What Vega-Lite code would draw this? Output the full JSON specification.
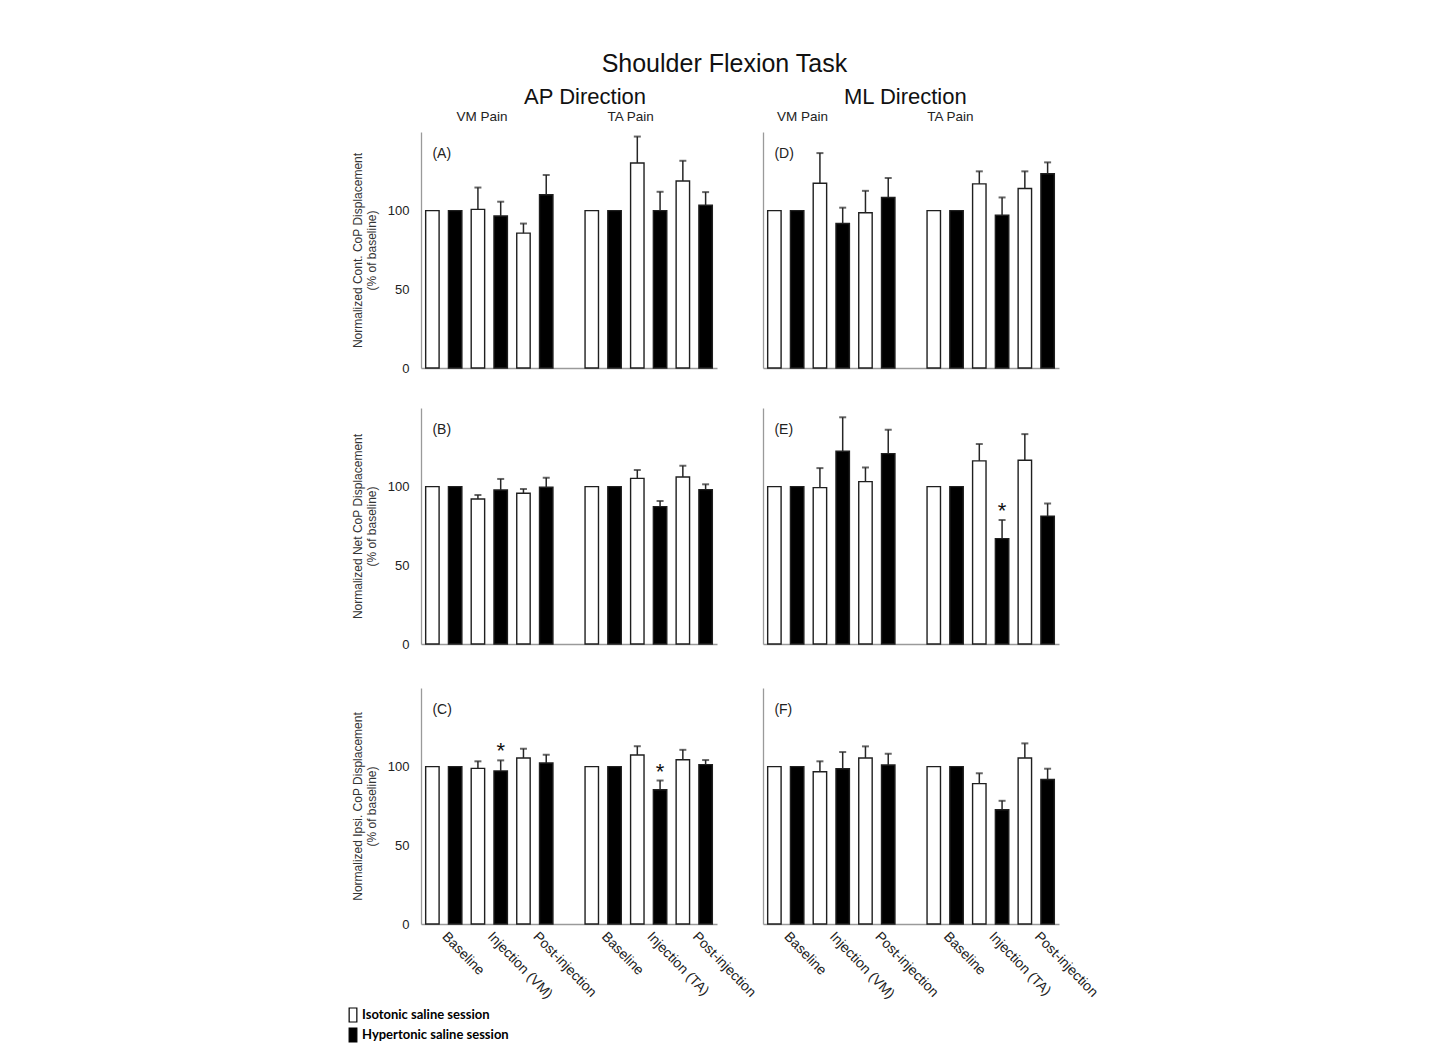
{
"$schema":"https://vega.github.io/schema/vega-lite/v6.json",
"padding":{"left":345,"top":51,"right":5,"bottom":5},
"title":{"text":"Shoulder Flexion Task","fontSize":25,"fontWeight":"normal","font":"Liberation Sans","color":"#111","anchor":"middle","offset":9,"dx":2},
"datasets":{"d":[
{"panel":"A","pain":"VM","phase":"Baseline","session":"Isotonic saline session","value":100},
{"panel":"A","pain":"VM","phase":"Baseline","session":"Hypertonic saline session","value":100},
{"panel":"A","pain":"VM","phase":"Injection (VM)","session":"Isotonic saline session","value":100.8,"upper":114.7},
{"panel":"A","pain":"VM","phase":"Injection (VM)","session":"Hypertonic saline session","value":96.6,"upper":105.7},
{"panel":"A","pain":"VM","phase":"Post-injection","session":"Isotonic saline session","value":85.7,"upper":91.8},
{"panel":"A","pain":"VM","phase":"Post-injection","session":"Hypertonic saline session","value":110.1,"upper":122.7},
{"panel":"A","pain":"TA","phase":"Baseline","session":"Isotonic saline session","value":100},
{"panel":"A","pain":"TA","phase":"Baseline","session":"Hypertonic saline session","value":100},
{"panel":"A","pain":"TA","phase":"Injection (TA)","session":"Isotonic saline session","value":130.3,"upper":147.1},
{"panel":"A","pain":"TA","phase":"Injection (TA)","session":"Hypertonic saline session","value":100,"upper":112},
{"panel":"A","pain":"TA","phase":"Post-injection","session":"Isotonic saline session","value":118.9,"upper":131.7},
{"panel":"A","pain":"TA","phase":"Post-injection","session":"Hypertonic saline session","value":103.4,"upper":111.8},
{"panel":"B","pain":"VM","phase":"Baseline","session":"Isotonic saline session","value":100},
{"panel":"B","pain":"VM","phase":"Baseline","session":"Hypertonic saline session","value":100},
{"panel":"B","pain":"VM","phase":"Injection (VM)","session":"Isotonic saline session","value":92.2,"upper":94.7},
{"panel":"B","pain":"VM","phase":"Injection (VM)","session":"Hypertonic saline session","value":97.9,"upper":104.9},
{"panel":"B","pain":"VM","phase":"Post-injection","session":"Isotonic saline session","value":95.8,"upper":98.5},
{"panel":"B","pain":"VM","phase":"Post-injection","session":"Hypertonic saline session","value":99.6,"upper":105.7},
{"panel":"B","pain":"TA","phase":"Baseline","session":"Isotonic saline session","value":100},
{"panel":"B","pain":"TA","phase":"Baseline","session":"Hypertonic saline session","value":100},
{"panel":"B","pain":"TA","phase":"Injection (TA)","session":"Isotonic saline session","value":105.3,"upper":110.6},
{"panel":"B","pain":"TA","phase":"Injection (TA)","session":"Hypertonic saline session","value":87.3,"upper":90.9},
{"panel":"B","pain":"TA","phase":"Post-injection","session":"Isotonic saline session","value":106.1,"upper":113.3},
{"panel":"B","pain":"TA","phase":"Post-injection","session":"Hypertonic saline session","value":98.1,"upper":101.5},
{"panel":"C","pain":"VM","phase":"Baseline","session":"Isotonic saline session","value":100},
{"panel":"C","pain":"VM","phase":"Baseline","session":"Hypertonic saline session","value":100},
{"panel":"C","pain":"VM","phase":"Injection (VM)","session":"Isotonic saline session","value":98.9,"upper":103.4},
{"panel":"C","pain":"VM","phase":"Injection (VM)","session":"Hypertonic saline session","value":97.3,"upper":104.0,"sig":"*"},
{"panel":"C","pain":"VM","phase":"Post-injection","session":"Isotonic saline session","value":105.5,"upper":111.4},
{"panel":"C","pain":"VM","phase":"Post-injection","session":"Hypertonic saline session","value":102.3,"upper":107.6},
{"panel":"C","pain":"TA","phase":"Baseline","session":"Isotonic saline session","value":100},
{"panel":"C","pain":"TA","phase":"Baseline","session":"Hypertonic saline session","value":100},
{"panel":"C","pain":"TA","phase":"Injection (TA)","session":"Isotonic saline session","value":107.4,"upper":113.0},
{"panel":"C","pain":"TA","phase":"Injection (TA)","session":"Hypertonic saline session","value":85.3,"upper":91.2,"sig":"*"},
{"panel":"C","pain":"TA","phase":"Post-injection","session":"Isotonic saline session","value":104.4,"upper":110.7},
{"panel":"C","pain":"TA","phase":"Post-injection","session":"Hypertonic saline session","value":101.3,"upper":104.2},
{"panel":"D","pain":"VM","phase":"Baseline","session":"Isotonic saline session","value":100},
{"panel":"D","pain":"VM","phase":"Baseline","session":"Hypertonic saline session","value":100},
{"panel":"D","pain":"VM","phase":"Injection (VM)","session":"Isotonic saline session","value":117.4,"upper":136.6},
{"panel":"D","pain":"VM","phase":"Injection (VM)","session":"Hypertonic saline session","value":91.8,"upper":101.9},
{"panel":"D","pain":"VM","phase":"Post-injection","session":"Isotonic saline session","value":98.7,"upper":112.6},
{"panel":"D","pain":"VM","phase":"Post-injection","session":"Hypertonic saline session","value":108.4,"upper":120.8},
{"panel":"D","pain":"TA","phase":"Baseline","session":"Isotonic saline session","value":100},
{"panel":"D","pain":"TA","phase":"Baseline","session":"Hypertonic saline session","value":100},
{"panel":"D","pain":"TA","phase":"Injection (TA)","session":"Isotonic saline session","value":117.0,"upper":125.0},
{"panel":"D","pain":"TA","phase":"Injection (TA)","session":"Hypertonic saline session","value":97.1,"upper":108.4},
{"panel":"D","pain":"TA","phase":"Post-injection","session":"Isotonic saline session","value":114.1,"upper":125.0},
{"panel":"D","pain":"TA","phase":"Post-injection","session":"Hypertonic saline session","value":123.5,"upper":130.7},
{"panel":"E","pain":"VM","phase":"Baseline","session":"Isotonic saline session","value":100},
{"panel":"E","pain":"VM","phase":"Baseline","session":"Hypertonic saline session","value":100},
{"panel":"E","pain":"VM","phase":"Injection (VM)","session":"Isotonic saline session","value":99.4,"upper":111.8},
{"panel":"E","pain":"VM","phase":"Injection (VM)","session":"Hypertonic saline session","value":122.5,"upper":144.1},
{"panel":"E","pain":"VM","phase":"Post-injection","session":"Isotonic saline session","value":103.2,"upper":112.2},
{"panel":"E","pain":"VM","phase":"Post-injection","session":"Hypertonic saline session","value":121.0,"upper":136.1},
{"panel":"E","pain":"TA","phase":"Baseline","session":"Isotonic saline session","value":100},
{"panel":"E","pain":"TA","phase":"Baseline","session":"Hypertonic saline session","value":100},
{"panel":"E","pain":"TA","phase":"Injection (TA)","session":"Isotonic saline session","value":116.4,"upper":127.1},
{"panel":"E","pain":"TA","phase":"Injection (TA)","session":"Hypertonic saline session","value":67.0,"upper":78.8,"sig":"*"},
{"panel":"E","pain":"TA","phase":"Post-injection","session":"Isotonic saline session","value":116.8,"upper":133.4},
{"panel":"E","pain":"TA","phase":"Post-injection","session":"Hypertonic saline session","value":81.3,"upper":89.3},
{"panel":"F","pain":"VM","phase":"Baseline","session":"Isotonic saline session","value":100},
{"panel":"F","pain":"VM","phase":"Baseline","session":"Hypertonic saline session","value":100},
{"panel":"F","pain":"VM","phase":"Injection (VM)","session":"Isotonic saline session","value":96.8,"upper":103.4},
{"panel":"F","pain":"VM","phase":"Injection (VM)","session":"Hypertonic saline session","value":98.7,"upper":109.3},
{"panel":"F","pain":"VM","phase":"Post-injection","session":"Isotonic saline session","value":105.5,"upper":112.9},
{"panel":"F","pain":"VM","phase":"Post-injection","session":"Hypertonic saline session","value":101.1,"upper":108.2},
{"panel":"F","pain":"TA","phase":"Baseline","session":"Isotonic saline session","value":100},
{"panel":"F","pain":"TA","phase":"Baseline","session":"Hypertonic saline session","value":100},
{"panel":"F","pain":"TA","phase":"Injection (TA)","session":"Isotonic saline session","value":89.2,"upper":95.8},
{"panel":"F","pain":"TA","phase":"Injection (TA)","session":"Hypertonic saline session","value":72.6,"upper":78.3},
{"panel":"F","pain":"TA","phase":"Post-injection","session":"Isotonic saline session","value":105.5,"upper":114.8},
{"panel":"F","pain":"TA","phase":"Post-injection","session":"Hypertonic saline session","value":91.8,"upper":98.7}
]},
"data":{"name":"d"},
"transform":[{"calculate":"datum.pain + '|' + datum.phase + '|' + (datum.session == 'Isotonic saline session' ? 'I' : 'H')","as":"slot"}],
"spacing":37,
"vconcat":[
{"spacing":33,"vconcat":[
{"spacing":46,"hconcat":[
{"width":296,"height":236,
"encoding":{"x":{"field":"slot","type":"nominal","title":null,"scale":{"domain":["VM|Baseline|I","VM|Baseline|H","VM|Injection (VM)|I","VM|Injection (VM)|H","VM|Post-injection|I","VM|Post-injection|H","gap","TA|Baseline|I","TA|Baseline|H","TA|Injection (TA)|I","TA|Injection (TA)|H","TA|Post-injection|I","TA|Post-injection|H"],"paddingInner":0.41,"paddingOuter":0.205},"axis":{"labels":false,"ticks":false,"domainColor":"#9a9a9a","domainWidth":1.3,"title":null}}},
"layer":[
{"transform":[{"filter":"datum.panel=='A'"}],"mark":{"type":"bar","stroke":"#1f1f1f","strokeWidth":1.4},
"encoding":{"y":{"field":"value","type":"quantitative","scale":{"domain":[0,150]},"axis":{"values":[0,50,100],"ticks":false,"tickSize":0,"domainColor":"#9a9a9a","domainWidth":1.3,"labelFontSize":13,"labelPadding":12,"labelColor":"#222","title":["Normalized Cont. CoP Displacement","(% of baseline)"],"titleFontSize":12,"titleFontWeight":"normal","titleColor":"#333","titlePadding":9,"titleLineHeight":14}},
"fill":{"field":"session","type":"nominal","scale":{"domain":["Isotonic saline session","Hypertonic saline session"],"range":["#ffffff","#000000"]},"legend":{"orient":"none","legendX":-76,"legendY":875,"title":null,"symbolType":"M-0.55,-1H0.55V1H-0.55Z","symbolSize":196,"symbolStrokeColor":"#000","symbolStrokeWidth":1.2,"labelFont":"Lato","labelFontWeight":"bold","labelFontSize":13,"labelColor":"#000","labelOffset":1,"rowPadding":0,"symbolOffset":0}}}},
{"transform":[{"filter":"datum.panel=='A' && isValid(datum.upper)"}],"mark":{"type":"rule","color":"#262626","strokeWidth":1.5},"encoding":{"y":{"field":"value","type":"quantitative","scale":{"domain":[0,150]}},"y2":{"field":"upper"}}},
{"transform":[{"filter":"datum.panel=='A' && isValid(datum.upper)"}],"mark":{"type":"tick","color":"#262626","thickness":2,"size":7},"encoding":{"y":{"field":"upper","type":"quantitative","scale":{"domain":[0,150]}}}},
{"transform":[{"filter":"datum.panel=='A' && datum.slot=='VM|Baseline|I'"}],"mark":{"type":"text","align":"left","baseline":"middle","fontSize":14,"color":"#222"},"encoding":{"x":{"datum":"VM|Baseline|I","type":"nominal","bandPosition":0.5},"y":{"datum":136,"type":"quantitative","scale":{"domain":[0,150]}},"text":{"value":"(A)"}}},
{"transform":[{"filter":"datum.panel=='A' && datum.slot=='VM|Baseline|I'"}],"mark":{"type":"text","align":"center","baseline":"alphabetic","fontSize":13.5,"color":"#222"},"encoding":{"x":{"datum":"VM|Injection (VM)|I","type":"nominal","bandPosition":0.8},"y":{"datum":157,"type":"quantitative","scale":{"domain":[0,150]}},"text":{"value":"VM Pain"}}},
{"transform":[{"filter":"datum.panel=='A' && datum.slot=='VM|Baseline|I'"}],"mark":{"type":"text","align":"center","baseline":"alphabetic","fontSize":13.5,"color":"#222"},"encoding":{"x":{"datum":"TA|Injection (TA)|I","type":"nominal","bandPosition":0},"y":{"datum":157,"type":"quantitative","scale":{"domain":[0,150]}},"text":{"value":"TA Pain"}}},
{"transform":[{"filter":"datum.panel=='A' && datum.slot=='VM|Baseline|I'"}],"mark":{"type":"text","align":"center","baseline":"alphabetic","fontSize":22,"color":"#111"},"encoding":{"x":{"datum":"TA|Baseline|I","type":"nominal","bandPosition":0},"y":{"datum":168,"type":"quantitative","scale":{"domain":[0,150]}},"text":{"value":"AP Direction"}}}
]},
{"width":296,"height":236,
"encoding":{"x":{"field":"slot","type":"nominal","title":null,"scale":{"domain":["VM|Baseline|I","VM|Baseline|H","VM|Injection (VM)|I","VM|Injection (VM)|H","VM|Post-injection|I","VM|Post-injection|H","gap","TA|Baseline|I","TA|Baseline|H","TA|Injection (TA)|I","TA|Injection (TA)|H","TA|Post-injection|I","TA|Post-injection|H"],"paddingInner":0.41,"paddingOuter":0.205},"axis":{"labels":false,"ticks":false,"domainColor":"#9a9a9a","domainWidth":1.3,"title":null}}},
"layer":[
{"transform":[{"filter":"datum.panel=='D'"}],"mark":{"type":"bar","stroke":"#1f1f1f","strokeWidth":1.4},
"encoding":{"y":{"field":"value","type":"quantitative","scale":{"domain":[0,150]},"axis":{"values":[0,50,100],"labels":false,"ticks":false,"domainColor":"#9a9a9a","domainWidth":1.3,"title":null}},
"fill":{"field":"session","type":"nominal","scale":{"domain":["Isotonic saline session","Hypertonic saline session"],"range":["#ffffff","#000000"]},"legend":{"orient":"none","legendX":-76,"legendY":875,"title":null,"symbolType":"M-0.55,-1H0.55V1H-0.55Z","symbolSize":196,"symbolStrokeColor":"#000","symbolStrokeWidth":1.2,"labelFont":"Lato","labelFontWeight":"bold","labelFontSize":13,"labelColor":"#000","labelOffset":1,"rowPadding":0,"symbolOffset":0}}}},
{"transform":[{"filter":"datum.panel=='D' && isValid(datum.upper)"}],"mark":{"type":"rule","color":"#262626","strokeWidth":1.5},"encoding":{"y":{"field":"value","type":"quantitative","scale":{"domain":[0,150]}},"y2":{"field":"upper"}}},
{"transform":[{"filter":"datum.panel=='D' && isValid(datum.upper)"}],"mark":{"type":"tick","color":"#262626","thickness":2,"size":7},"encoding":{"y":{"field":"upper","type":"quantitative","scale":{"domain":[0,150]}}}},
{"transform":[{"filter":"datum.panel=='D' && datum.slot=='VM|Baseline|I'"}],"mark":{"type":"text","align":"left","baseline":"middle","fontSize":14,"color":"#222"},"encoding":{"x":{"datum":"VM|Baseline|I","type":"nominal","bandPosition":0.5},"y":{"datum":136,"type":"quantitative","scale":{"domain":[0,150]}},"text":{"value":"(D)"}}},
{"transform":[{"filter":"datum.panel=='D' && datum.slot=='VM|Baseline|I'"}],"mark":{"type":"text","align":"center","baseline":"alphabetic","fontSize":13.5,"color":"#222"},"encoding":{"x":{"datum":"VM|Baseline|H","type":"nominal","bandPosition":0.89},"y":{"datum":157,"type":"quantitative","scale":{"domain":[0,150]}},"text":{"value":"VM Pain"}}},
{"transform":[{"filter":"datum.panel=='D' && datum.slot=='VM|Baseline|I'"}],"mark":{"type":"text","align":"center","baseline":"alphabetic","fontSize":13.5,"color":"#222"},"encoding":{"x":{"datum":"TA|Baseline|H","type":"nominal","bandPosition":0.05},"y":{"datum":157,"type":"quantitative","scale":{"domain":[0,150]}},"text":{"value":"TA Pain"}}},
{"transform":[{"filter":"datum.panel=='D' && datum.slot=='VM|Baseline|I'"}],"mark":{"type":"text","align":"center","baseline":"alphabetic","fontSize":22,"color":"#111"},"encoding":{"x":{"datum":"gap","type":"nominal","bandPosition":0.08},"y":{"datum":168,"type":"quantitative","scale":{"domain":[0,150]}},"text":{"value":"ML Direction"}}}
]}
]},
{"spacing":46,"hconcat":[
{"width":296,"height":236,
"encoding":{"x":{"field":"slot","type":"nominal","title":null,"scale":{"domain":["VM|Baseline|I","VM|Baseline|H","VM|Injection (VM)|I","VM|Injection (VM)|H","VM|Post-injection|I","VM|Post-injection|H","gap","TA|Baseline|I","TA|Baseline|H","TA|Injection (TA)|I","TA|Injection (TA)|H","TA|Post-injection|I","TA|Post-injection|H"],"paddingInner":0.41,"paddingOuter":0.205},"axis":{"labels":false,"ticks":false,"domainColor":"#9a9a9a","domainWidth":1.3,"title":null}}},
"layer":[
{"transform":[{"filter":"datum.panel=='B'"}],"mark":{"type":"bar","stroke":"#1f1f1f","strokeWidth":1.4},
"encoding":{"y":{"field":"value","type":"quantitative","scale":{"domain":[0,150]},"axis":{"values":[0,50,100],"ticks":false,"tickSize":0,"domainColor":"#9a9a9a","domainWidth":1.3,"labelFontSize":13,"labelPadding":12,"labelColor":"#222","title":["Normalized Net CoP Displacement","(% of baseline)"],"titleFontSize":12,"titleFontWeight":"normal","titleColor":"#333","titlePadding":9,"titleLineHeight":14}},
"fill":{"field":"session","type":"nominal","scale":{"domain":["Isotonic saline session","Hypertonic saline session"],"range":["#ffffff","#000000"]},"legend":{"orient":"none","legendX":-76,"legendY":875,"title":null,"symbolType":"M-0.55,-1H0.55V1H-0.55Z","symbolSize":196,"symbolStrokeColor":"#000","symbolStrokeWidth":1.2,"labelFont":"Lato","labelFontWeight":"bold","labelFontSize":13,"labelColor":"#000","labelOffset":1,"rowPadding":0,"symbolOffset":0}}}},
{"transform":[{"filter":"datum.panel=='B' && isValid(datum.upper)"}],"mark":{"type":"rule","color":"#262626","strokeWidth":1.5},"encoding":{"y":{"field":"value","type":"quantitative","scale":{"domain":[0,150]}},"y2":{"field":"upper"}}},
{"transform":[{"filter":"datum.panel=='B' && isValid(datum.upper)"}],"mark":{"type":"tick","color":"#262626","thickness":2,"size":7},"encoding":{"y":{"field":"upper","type":"quantitative","scale":{"domain":[0,150]}}}},
{"transform":[{"filter":"datum.panel=='B' && datum.slot=='VM|Baseline|I'"}],"mark":{"type":"text","align":"left","baseline":"middle","fontSize":14,"color":"#222"},"encoding":{"x":{"datum":"VM|Baseline|I","type":"nominal","bandPosition":0.5},"y":{"datum":136,"type":"quantitative","scale":{"domain":[0,150]}},"text":{"value":"(B)"}}}
]},
{"width":296,"height":236,
"encoding":{"x":{"field":"slot","type":"nominal","title":null,"scale":{"domain":["VM|Baseline|I","VM|Baseline|H","VM|Injection (VM)|I","VM|Injection (VM)|H","VM|Post-injection|I","VM|Post-injection|H","gap","TA|Baseline|I","TA|Baseline|H","TA|Injection (TA)|I","TA|Injection (TA)|H","TA|Post-injection|I","TA|Post-injection|H"],"paddingInner":0.41,"paddingOuter":0.205},"axis":{"labels":false,"ticks":false,"domainColor":"#9a9a9a","domainWidth":1.3,"title":null}}},
"layer":[
{"transform":[{"filter":"datum.panel=='E'"}],"mark":{"type":"bar","stroke":"#1f1f1f","strokeWidth":1.4},
"encoding":{"y":{"field":"value","type":"quantitative","scale":{"domain":[0,150]},"axis":{"values":[0,50,100],"labels":false,"ticks":false,"domainColor":"#9a9a9a","domainWidth":1.3,"title":null}},
"fill":{"field":"session","type":"nominal","scale":{"domain":["Isotonic saline session","Hypertonic saline session"],"range":["#ffffff","#000000"]},"legend":{"orient":"none","legendX":-76,"legendY":875,"title":null,"symbolType":"M-0.55,-1H0.55V1H-0.55Z","symbolSize":196,"symbolStrokeColor":"#000","symbolStrokeWidth":1.2,"labelFont":"Lato","labelFontWeight":"bold","labelFontSize":13,"labelColor":"#000","labelOffset":1,"rowPadding":0,"symbolOffset":0}}}},
{"transform":[{"filter":"datum.panel=='E' && isValid(datum.upper)"}],"mark":{"type":"rule","color":"#262626","strokeWidth":1.5},"encoding":{"y":{"field":"value","type":"quantitative","scale":{"domain":[0,150]}},"y2":{"field":"upper"}}},
{"transform":[{"filter":"datum.panel=='E' && isValid(datum.upper)"}],"mark":{"type":"tick","color":"#262626","thickness":2,"size":7},"encoding":{"y":{"field":"upper","type":"quantitative","scale":{"domain":[0,150]}}}},
{"transform":[{"filter":"datum.panel=='E' && datum.sig=='*'"}],"mark":{"type":"text","fontSize":22,"baseline":"alphabetic","dy":-2,"color":"#111"},"encoding":{"y":{"field":"upper","type":"quantitative","scale":{"domain":[0,150]}},"text":{"field":"sig"}}},
{"transform":[{"filter":"datum.panel=='E' && datum.slot=='VM|Baseline|I'"}],"mark":{"type":"text","align":"left","baseline":"middle","fontSize":14,"color":"#222"},"encoding":{"x":{"datum":"VM|Baseline|I","type":"nominal","bandPosition":0.5},"y":{"datum":136,"type":"quantitative","scale":{"domain":[0,150]}},"text":{"value":"(E)"}}}
]}
]}
]},
{"spacing":46,"bounds":"flush","hconcat":[
{"width":296,"height":236,
"encoding":{"x":{"field":"slot","type":"nominal","title":null,"scale":{"domain":["VM|Baseline|I","VM|Baseline|H","VM|Injection (VM)|I","VM|Injection (VM)|H","VM|Post-injection|I","VM|Post-injection|H","gap","TA|Baseline|I","TA|Baseline|H","TA|Injection (TA)|I","TA|Injection (TA)|H","TA|Post-injection|I","TA|Post-injection|H"],"paddingInner":0.41,"paddingOuter":0.205},"axis":{"labels":true,"ticks":false,"domainColor":"#9a9a9a","domainWidth":1.3,"title":null,"labelAngle":46,"labelAlign":"left","labelBaseline":"middle","labelOffset":12,"labelPadding":10,"labelFontSize":14,"labelColor":"#222","labelOverlap":false,"labelExpr":"split(datum.value,'|')[2] == 'I' ? split(datum.value,'|')[1] : ''"}}},
"layer":[
{"transform":[{"filter":"datum.panel=='C'"}],"mark":{"type":"bar","stroke":"#1f1f1f","strokeWidth":1.4},
"encoding":{"y":{"field":"value","type":"quantitative","scale":{"domain":[0,150]},"axis":{"values":[0,50,100],"ticks":false,"tickSize":0,"domainColor":"#9a9a9a","domainWidth":1.3,"labelFontSize":13,"labelPadding":12,"labelColor":"#222","title":["Normalized Ipsi. CoP Displacement","(% of baseline)"],"titleFontSize":12,"titleFontWeight":"normal","titleColor":"#333","titlePadding":9,"titleLineHeight":14}},
"fill":{"field":"session","type":"nominal","scale":{"domain":["Isotonic saline session","Hypertonic saline session"],"range":["#ffffff","#000000"]},"legend":{"orient":"none","legendX":-76,"legendY":875,"title":null,"symbolType":"M-0.55,-1H0.55V1H-0.55Z","symbolSize":196,"symbolStrokeColor":"#000","symbolStrokeWidth":1.2,"labelFont":"Lato","labelFontWeight":"bold","labelFontSize":13,"labelColor":"#000","labelOffset":1,"rowPadding":0,"symbolOffset":0}}}},
{"transform":[{"filter":"datum.panel=='C' && isValid(datum.upper)"}],"mark":{"type":"rule","color":"#262626","strokeWidth":1.5},"encoding":{"y":{"field":"value","type":"quantitative","scale":{"domain":[0,150]}},"y2":{"field":"upper"}}},
{"transform":[{"filter":"datum.panel=='C' && isValid(datum.upper)"}],"mark":{"type":"tick","color":"#262626","thickness":2,"size":7},"encoding":{"y":{"field":"upper","type":"quantitative","scale":{"domain":[0,150]}}}},
{"transform":[{"filter":"datum.panel=='C' && datum.sig=='*'"}],"mark":{"type":"text","fontSize":22,"baseline":"alphabetic","dy":-2,"color":"#111"},"encoding":{"y":{"field":"upper","type":"quantitative","scale":{"domain":[0,150]}},"text":{"field":"sig"}}},
{"transform":[{"filter":"datum.panel=='C' && datum.slot=='VM|Baseline|I'"}],"mark":{"type":"text","align":"left","baseline":"middle","fontSize":14,"color":"#222"},"encoding":{"x":{"datum":"VM|Baseline|I","type":"nominal","bandPosition":0.5},"y":{"datum":136,"type":"quantitative","scale":{"domain":[0,150]}},"text":{"value":"(C)"}}}
]},
{"width":296,"height":236,
"encoding":{"x":{"field":"slot","type":"nominal","title":null,"scale":{"domain":["VM|Baseline|I","VM|Baseline|H","VM|Injection (VM)|I","VM|Injection (VM)|H","VM|Post-injection|I","VM|Post-injection|H","gap","TA|Baseline|I","TA|Baseline|H","TA|Injection (TA)|I","TA|Injection (TA)|H","TA|Post-injection|I","TA|Post-injection|H"],"paddingInner":0.41,"paddingOuter":0.205},"axis":{"labels":true,"ticks":false,"domainColor":"#9a9a9a","domainWidth":1.3,"title":null,"labelAngle":46,"labelAlign":"left","labelBaseline":"middle","labelOffset":12,"labelPadding":10,"labelFontSize":14,"labelColor":"#222","labelOverlap":false,"labelExpr":"split(datum.value,'|')[2] == 'I' ? split(datum.value,'|')[1] : ''"}}},
"layer":[
{"transform":[{"filter":"datum.panel=='F'"}],"mark":{"type":"bar","stroke":"#1f1f1f","strokeWidth":1.4},
"encoding":{"y":{"field":"value","type":"quantitative","scale":{"domain":[0,150]},"axis":{"values":[0,50,100],"labels":false,"ticks":false,"domainColor":"#9a9a9a","domainWidth":1.3,"title":null}},
"fill":{"field":"session","type":"nominal","scale":{"domain":["Isotonic saline session","Hypertonic saline session"],"range":["#ffffff","#000000"]},"legend":{"orient":"none","legendX":-76,"legendY":875,"title":null,"symbolType":"M-0.55,-1H0.55V1H-0.55Z","symbolSize":196,"symbolStrokeColor":"#000","symbolStrokeWidth":1.2,"labelFont":"Lato","labelFontWeight":"bold","labelFontSize":13,"labelColor":"#000","labelOffset":1,"rowPadding":0,"symbolOffset":0}}}},
{"transform":[{"filter":"datum.panel=='F' && isValid(datum.upper)"}],"mark":{"type":"rule","color":"#262626","strokeWidth":1.5},"encoding":{"y":{"field":"value","type":"quantitative","scale":{"domain":[0,150]}},"y2":{"field":"upper"}}},
{"transform":[{"filter":"datum.panel=='F' && isValid(datum.upper)"}],"mark":{"type":"tick","color":"#262626","thickness":2,"size":7},"encoding":{"y":{"field":"upper","type":"quantitative","scale":{"domain":[0,150]}}}},
{"transform":[{"filter":"datum.panel=='F' && datum.slot=='VM|Baseline|I'"}],"mark":{"type":"text","align":"left","baseline":"middle","fontSize":14,"color":"#222"},"encoding":{"x":{"datum":"VM|Baseline|I","type":"nominal","bandPosition":0.5},"y":{"datum":136,"type":"quantitative","scale":{"domain":[0,150]}},"text":{"value":"(F)"}}}
]}
]}
],
"config":{"font":"Liberation Sans","view":{"stroke":null},"axis":{"grid":false},"text":{"font":"Liberation Sans"}}
}
